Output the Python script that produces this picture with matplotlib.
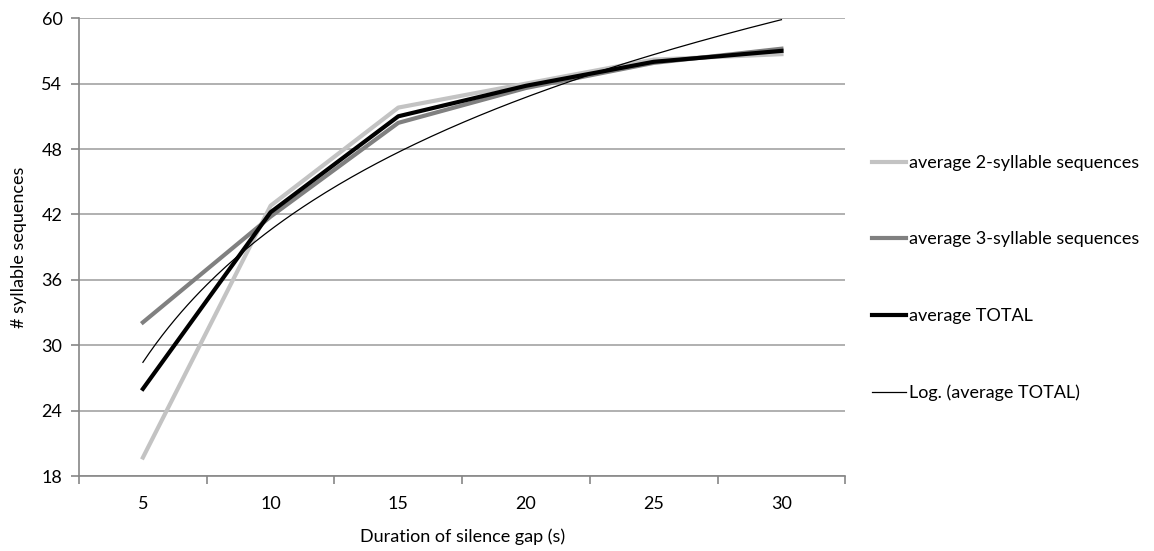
import numpy as np
import matplotlib
matplotlib.use('Agg')
import matplotlib.pyplot as plt

plt.rcParams['font.family'] = ['Lato', 'DejaVu Sans']

# silence gap categories (s)
gaps = [5, 10, 15, 20, 25, 30]
avg_2syl = [19.7, 42.8, 51.8, 54.0, 56.2, 56.7]
avg_3syl = [32.1, 41.8, 50.4, 53.6, 55.9, 57.2]
avg_total = [26.0, 42.2, 51.0, 53.8, 56.0, 57.0]

y_ticks = [18, 24, 30, 36, 42, 48, 54, 60]

FS = 13

fig = plt.figure(figsize=(11.54, 5.51), dpi=100)
ax = fig.add_axes([0.0685, 0.136, 0.664, 0.831])

idx = np.arange(1, len(gaps) + 1)

# Excel-style log trendline on category index
a, b = np.polyfit(np.log(idx), avg_total, 1)
xs = np.linspace(1, len(gaps), 200)

ax.plot(idx, avg_2syl, color='#c3c3c3', lw=3, label='average 2-syllable sequences', zorder=3)
ax.plot(idx, avg_3syl, color='#808080', lw=3, label='average 3-syllable sequences', zorder=3)
ax.plot(idx, avg_total, color='black', lw=3, label='average TOTAL', zorder=4)
ax.plot(xs, a * np.log(xs) + b, color='black', lw=0.9, label='Log. (average TOTAL)', zorder=5)

ax.set_xlim(0.5, len(gaps) + 0.5)
ax.set_ylim(18, 60)
ax.set_yticks(y_ticks)
ax.yaxis.grid(True, color='#b0b0b0', lw=1.4)
ax.set_axisbelow(True)

# category ticks between bins, labels centred
ax.set_xticks(np.arange(0.5, len(gaps) + 1, 1))
ax.set_xticklabels([])
ax.set_xticks(idx, minor=True)
ax.set_xticklabels([str(g) for g in gaps], minor=True)
ax.tick_params(axis='x', which='minor', length=0, pad=14, labelsize=FS)
ax.tick_params(axis='x', which='major', length=6, color='#868686', width=1.2)
ax.tick_params(axis='y', length=6, color='#868686', width=1.2, labelsize=FS, pad=6)

for s in ['top', 'right']:
    ax.spines[s].set_visible(False)
for s in ['left', 'bottom']:
    ax.spines[s].set_color('#868686')
    ax.spines[s].set_linewidth(1.2)

ax.set_xlabel('Duration of silence gap (s)', fontsize=FS, labelpad=12)
ax.set_ylabel('# syllable sequences', fontsize=FS, labelpad=10)

fig.legend(loc='center left', bbox_to_anchor=(0.756, 0.4955), frameon=False,
           fontsize=FS, labelspacing=3.35, handlelength=1.85, handletextpad=0.2,
           borderpad=0, borderaxespad=0)

fig.savefig('out.png', dpi=100)
